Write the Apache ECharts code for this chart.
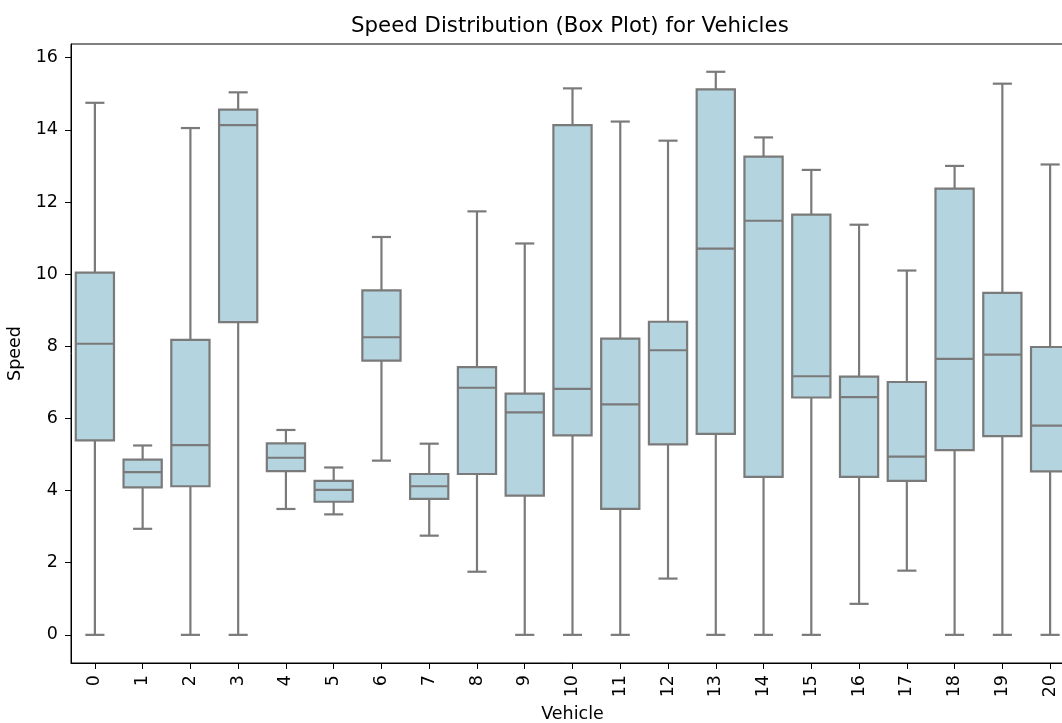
<!DOCTYPE html>
<html>
<head>
    <meta charset="utf-8">
    <title>Speed Distribution</title>
    <script src="https://cdn.jsdelivr.net/npm/echarts@6/dist/echarts.min.js"></script>
    <style>
        body { margin: 0; background: #fff; }
        #chart1 { width: 1062px; height: 723px; }
    </style>
</head>
<body>
<div id="chart1"></div>
<script type="text/javascript">
    // 车辆编号
    var vehicles = ['0','1','2','3','4','5','6','7','8','9','10','11','12','13','14','15','16','17','18','19','20'];
    // 箱线图五个统计量
    var lowWhisker  = [0, 2.94, 0, 0, 3.49, 3.34, 4.83, 2.75, 1.75, 0, 0, 0, 1.56, 0, 0, 0, 0.86, 1.78, 0, 0, 0];
    var q1          = [5.39, 4.09, 4.12, 8.67, 4.54, 3.69, 7.60, 3.77, 4.46, 3.86, 5.53, 3.49, 5.28, 5.57, 4.38, 6.58, 4.38, 4.27, 5.12, 5.51, 4.53];
    var median      = [8.07, 4.51, 5.26, 14.13, 4.91, 4.02, 8.25, 4.12, 6.85, 6.17, 6.82, 6.39, 7.89, 10.71, 11.48, 7.17, 6.59, 4.94, 7.65, 7.77, 5.80];
    var q3          = [10.04, 4.86, 8.18, 14.56, 5.31, 4.27, 9.55, 4.46, 7.42, 6.69, 14.13, 8.21, 8.68, 15.12, 13.26, 11.65, 7.16, 7.01, 12.37, 9.48, 7.98];
    var highWhisker = [14.75, 5.25, 14.05, 15.04, 5.68, 4.64, 11.03, 5.30, 11.74, 10.85, 15.15, 14.23, 13.70, 15.61, 13.79, 12.89, 11.37, 10.10, 13.00, 15.28, 13.04];
    var yTicks = [0, 2, 4, 6, 8, 10, 12, 14, 16];

    var boxData = vehicles.map(function (v, i) {
        return [i, lowWhisker[i], q1[i], median[i], q3[i], highWhisker[i]];
    });

    var lineColor = '#7a7a7a';
    var boxFill = '#b4d4df';
    var lw = 2.2;

    function renderBox(params, api) {
        var x = api.value(0);
        var band = api.size([1, 0])[0];
        var half = band * 0.4;
        var capHalf = band * 0.2;
        var pLow = api.coord([x, api.value(1)]);
        var pQ1 = api.coord([x, api.value(2)]);
        var pMed = api.coord([x, api.value(3)]);
        var pQ3 = api.coord([x, api.value(4)]);
        var pHigh = api.coord([x, api.value(5)]);
        var cx = pQ1[0];
        var st = { stroke: lineColor, lineWidth: lw, fill: null };
        return {
            type: 'group',
            children: [
                { type: 'line', shape: { x1: cx, y1: pQ1[1], x2: cx, y2: pLow[1] }, style: st },
                { type: 'line', shape: { x1: cx, y1: pQ3[1], x2: cx, y2: pHigh[1] }, style: st },
                { type: 'line', shape: { x1: cx - capHalf, y1: pLow[1], x2: cx + capHalf, y2: pLow[1] }, style: st },
                { type: 'line', shape: { x1: cx - capHalf, y1: pHigh[1], x2: cx + capHalf, y2: pHigh[1] }, style: st },
                { type: 'rect', shape: { x: cx - half, y: pQ3[1], width: half * 2, height: pQ1[1] - pQ3[1] },
                  style: { fill: boxFill, stroke: lineColor, lineWidth: lw } },
                { type: 'line', shape: { x1: cx - half, y1: pMed[1], x2: cx + half, y2: pMed[1] }, style: st }
            ]
        };
    }

    var font = 'DejaVu Sans';
    var myChart1 = echarts.init(document.getElementById('chart1'));
    var option = {
        animation: false,
        backgroundColor: '#fff',
        title: {
            text: 'Speed Distribution (Box Plot) for Vehicles',
            left: 351,
            top: 16,
            padding: 0,
            textStyle: { fontFamily: font, fontSize: 21.3, fontWeight: 'normal', color: '#000' }
        },
        grid: {
            left: 71, top: 44, right: -12, bottom: 60,
            outerBoundsMode: 'none',
            show: true, borderColor: '#000', borderWidth: 1, backgroundColor: 'transparent'
        },
        xAxis: {
            type: 'category',
            data: vehicles,
            boundaryGap: true,
            name: 'Vehicle',
            nameLocation: 'middle',
            nameGap: 41,
            nameTextStyle: { fontFamily: font, fontSize: 17.5, color: '#000' },
            axisLine: { show: true, onZero: false, lineStyle: { color: '#000', width: 1 } },
            axisTick: { show: true, alignWithLabel: true, length: 6, lineStyle: { color: '#000', width: 1 } },
            axisLabel: { rotate: 90, margin: 12, fontFamily: font, fontSize: 17.5, color: '#000', interval: 0 },
            splitLine: { show: false }
        },
        yAxis: {
            type: 'value',
            min: -0.78,
            max: 16.38,
            name: 'Speed',
            nameLocation: 'middle',
            nameGap: 40,
            nameTextStyle: { fontFamily: font, fontSize: 17.5, color: '#000' },
            axisLine: { show: true, onZero: false, lineStyle: { color: '#000', width: 1 } },
            axisTick: { show: true, length: 6, customValues: yTicks, lineStyle: { color: '#000', width: 1 } },
            axisLabel: { margin: 13, fontFamily: font, fontSize: 17.5, color: '#000', customValues: yTicks },
            splitLine: { show: false }
        },
        series: [{
            type: 'custom',
            renderItem: renderBox,
            encode: { x: 0, y: [1, 2, 3, 4, 5] },
            data: boxData
        }]
    };
    myChart1.setOption(option);
</script>
</body>
</html>
